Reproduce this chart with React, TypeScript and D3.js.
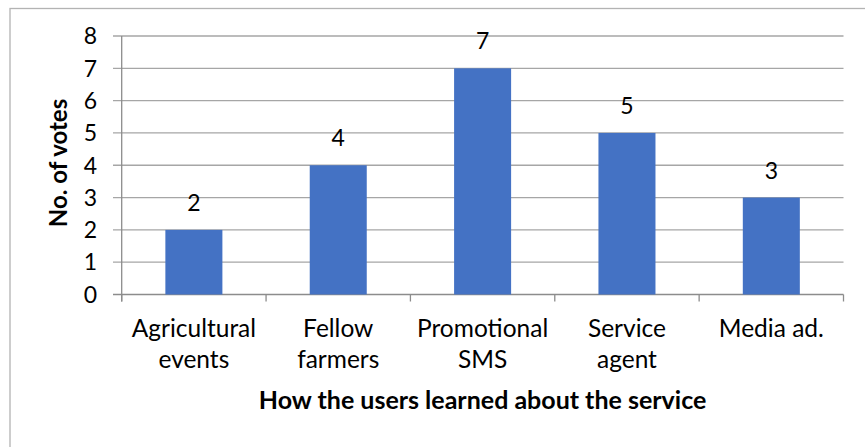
import React from "react";
import * as d3 from "d3";

const categories: string[][] = [
  ["Agricultural", "events"],
  ["Fellow", "farmers"],
  ["Promotional", "SMS"],
  ["Service", "agent"],
  ["Media ad."],
];
const votes: number[] = [2, 4, 7, 5, 3];
const yTicks: number[] = [0, 1, 2, 3, 4, 5, 6, 7, 8];
const yTitle = "No. of votes";
const xTitle = "How the users learned about the service";

const W = 865;
const H = 447;
const left = 121.7;
const right = 843.5;
const top = 36;
const bottom = 294.5;
const font = "Lato, Carlito, Calibri, 'Open Sans', sans-serif";

export default function App() {
  const keys = categories.map((c) => c.join(" "));
  const x = d3.scaleBand<string>().domain(keys).range([left, right]).paddingInner(0.605).paddingOuter(0.3025);
  const xStep = d3.scaleBand<string>().domain(keys).range([left, right]).padding(0);
  const y = d3.scaleLinear().domain([0, 8]).range([bottom, top]);
  const grid = "#a6a6a6";
  const axis = "#8c8c8c";
  const boundaries = keys.map((k) => (xStep(k) as number) + xStep.bandwidth()).concat([left]);
  return (
    <svg width={W} height={H} style={{ position: "absolute", left: 0, top: 0, background: "#fff" }} fontFamily={font}>
      <rect x={10} y={8.5} width={W + 10} height={H + 10} fill="#fff" stroke="#b3b3b3" strokeWidth={1.3} />
      {yTicks.map((t) => (
        <g key={t}>
          <line x1={113} x2={right} y1={y(t)} y2={y(t)} stroke={t === 0 ? axis : grid} strokeWidth={1.3} />
          <text x={97} y={y(t)} dy="0.36em" textAnchor="end" fontSize={23} fill="#000">
            {t}
          </text>
        </g>
      ))}
      <line x1={left} x2={left} y1={top} y2={bottom + 7} stroke={axis} strokeWidth={1.3} />
      {boundaries.map((b, i) => (
        <line key={i} x1={b} x2={b} y1={bottom} y2={bottom + 7} stroke={axis} strokeWidth={1.3} />
      ))}
      {keys.map((k, i) => (
        <rect key={k} x={x(k)} y={y(votes[i])} width={x.bandwidth()} height={bottom - y(votes[i])} fill="#4472C4" />
      ))}
      {keys.map((k, i) => (
        <text key={k} x={(x(k) as number) + x.bandwidth() / 2} y={y(votes[i]) - 19} textAnchor="middle" fontSize={23} fill="#000">
          {votes[i]}
        </text>
      ))}
      {categories.map((lines, i) => (
        <text key={i} x={(xStep(keys[i]) as number) + xStep.bandwidth() / 2} textAnchor="middle" fontSize={24.5} fill="#000">
          {lines.map((l, j) => (
            <tspan key={j} x={(xStep(keys[i]) as number) + xStep.bandwidth() / 2} y={337 + j * 31}>
              {l}
            </tspan>
          ))}
        </text>
      ))}
      <text x={(left + right) / 2} y={409} textAnchor="middle" fontSize={25} fontWeight="bold" fill="#000">
        {xTitle}
      </text>
      <text transform={`translate(67,163) rotate(-90)`} textAnchor="middle" fontSize={24} fontWeight="bold" fill="#000">
        {yTitle}
      </text>
    </svg>
  );
}
